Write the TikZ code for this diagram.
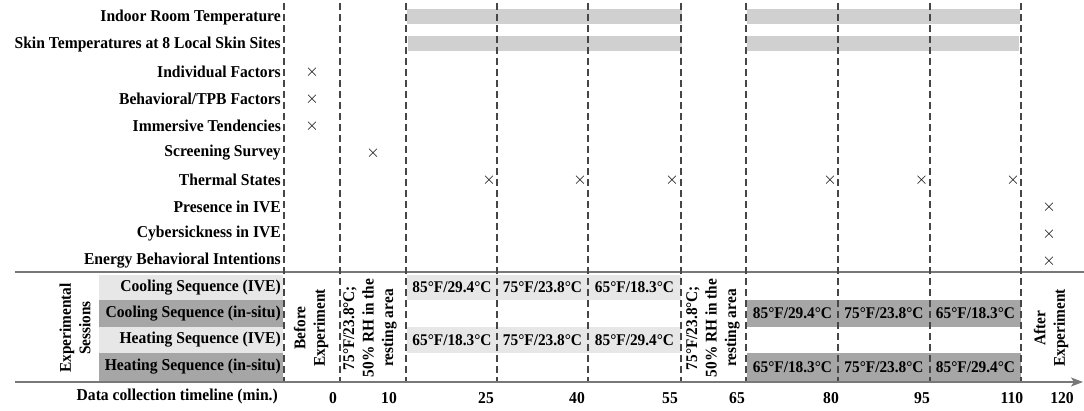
\documentclass[tikz,border=0pt]{standalone}
\usepackage{fontspec}
\setmainfont[FakeStretch=0.94]{Liberation Serif}
\usetikzlibrary{arrows.meta}
\definecolor{bargray}{RGB}{208,208,208}
\definecolor{lightcell}{RGB}{231,231,231}
\definecolor{darkcell}{RGB}{166,166,166}
\definecolor{dashcol}{RGB}{70,70,70}
\definecolor{axiscol}{RGB}{120,120,120}
\begin{document}
\begin{tikzpicture}[x=1pt,y=-1pt,
  lbl/.style={anchor=east, font=\fontsize{16.6}{19}\selectfont\bfseries, inner sep=0pt},
  mk/.style={font=\fontsize{17}{17}\selectfont, inner sep=0pt},
  bar/.style={fill=bargray, draw=none, inner sep=0pt, minimum height=15pt},
  lcell/.style={fill=lightcell, draw=none, inner sep=0pt, font=\fontsize{16.3}{19}\selectfont\bfseries},
  dcell/.style={fill=darkcell, draw=none, inner sep=0pt, font=\fontsize{16.3}{19}\selectfont\bfseries},
  rot/.style={rotate=90, align=center, inner sep=0pt, font=\fontsize{16.3}{19.5}\selectfont\bfseries},
  tick/.style={font=\fontsize{16.6}{19}\selectfont\bfseries, inner sep=0pt},
  dsh/.style={draw=dashcol, line width=1.2pt, dash pattern=on 7pt off 4pt},
  axisline/.style={draw=axiscol, line width=1.8pt},
]
\useasboundingbox (0,0) rectangle (1084,411);

% top gray bars
\node[bar, minimum width=275pt] (barA1) at (544.5,16.5) {};
\node[bar, minimum width=273pt] (barA2) at (883.5,16.5) {};
\node[bar, minimum width=274pt] (barB1) at (545,43.5) {};
\node[bar, minimum width=272pt] (barB2) at (883,43.5) {};

% bottom left bands
\node[lcell, minimum width=184pt, minimum height=25pt] (bandA) at (191,287.5) {};
\node[dcell, minimum width=184pt, minimum height=27pt] (bandB) at (191,313.5) {};
\node[lcell, minimum width=184pt, minimum height=26pt] (bandC) at (191,340) {};
\node[dcell, minimum width=184pt, minimum height=28pt] (bandD) at (191,367) {};

% middle light cells
\node[lcell, minimum width=90pt, minimum height=25pt] (c11) at (452,287.5) {85°F/29.4°C};
\node[lcell, minimum width=91pt, minimum height=25pt] (c12) at (542.5,287.5) {75°F/23.8°C};
\node[lcell, minimum width=93pt, minimum height=25pt] (c13) at (634.5,287.5) {65°F/18.3°C};
\node[lcell, minimum width=90pt, minimum height=26pt] (c31) at (452,340) {65°F/18.3°C};
\node[lcell, minimum width=91pt, minimum height=26pt] (c32) at (542.5,340) {75°F/23.8°C};
\node[lcell, minimum width=93pt, minimum height=26pt] (c33) at (634.5,340) {85°F/29.4°C};

% right dark cells
\node[dcell, minimum width=91pt, minimum height=27pt] (d21) at (792.5,313.5) {85°F/29.4°C};
\node[dcell, minimum width=92pt, minimum height=27pt] (d22) at (884,313.5) {75°F/23.8°C};
\node[dcell, minimum width=91pt, minimum height=27pt] (d23) at (975.5,313.5) {65°F/18.3°C};
\node[dcell, minimum width=91pt, minimum height=28pt] (d41) at (792.5,367) {65°F/18.3°C};
\node[dcell, minimum width=92pt, minimum height=28pt] (d42) at (884,367) {75°F/23.8°C};
\node[dcell, minimum width=91pt, minimum height=28pt] (d43) at (975.5,367) {85°F/29.4°C};

% separator and axis
\coordinate (sepL) at (15,272);
\coordinate (sepR) at (1084,272);
\draw[axisline, line width=1.4pt] (sepL) -- (sepR);
\coordinate (axL) at (15,382);
\coordinate (axR) at (1083,382);
\draw[axisline, -{Stealth[length=12pt,width=9pt,inset=3pt]}] (axL) -- (axR);

% dashed vertical lines
\foreach \i/\x in {0/284,1/340,2/406,3/497,4/588,5/681,6/746,7/838,8/930,9/1021}{
  \coordinate (t\i) at (\x,3);
  \coordinate (b\i) at (\x,381);
  \draw[dsh] (t\i) -- (b\i);
}

% row labels
\node[lbl] (r1) at (281,18) {Indoor Room Temperature};
\node[lbl] (r2) at (281,45) {Skin Temperatures at 8 Local Skin Sites};
\node[lbl] (r3) at (281,72) {Individual Factors};
\node[lbl] (r4) at (281,99) {Behavioral/TPB Factors};
\node[lbl] (r5) at (281,126) {Immersive Tendencies};
\node[lbl] (r6) at (281,153) {Screening Survey};
\node[lbl] (r7) at (281,180) {Thermal States};
\node[lbl] (r8) at (281,207) {Presence in IVE};
\node[lbl] (r9) at (281,234) {Cybersickness in IVE};
\node[lbl] (r10) at (281,261) {Energy Behavioral Intentions};

\node[lbl] (s1) at (281,287.5) {Cooling Sequence (IVE)};
\node[lbl] (s2) at (281,313.5) {Cooling Sequence (in-situ)};
\node[lbl] (s3) at (281,340) {Heating Sequence (IVE)};
\node[lbl] (s4) at (281,367) {Heating Sequence (in-situ)};

% markers
\node[mk] (m1) at (312,72) {$\times$};
\node[mk] (m2) at (312,99) {$\times$};
\node[mk] (m3) at (312,126) {$\times$};
\node[mk] (m4) at (373,153) {$\times$};
\node[mk] (m5) at (489,180) {$\times$};
\node[mk] (m6) at (580,180) {$\times$};
\node[mk] (m7) at (672,180) {$\times$};
\node[mk] (m8) at (830,180) {$\times$};
\node[mk] (m9) at (921.5,180) {$\times$};
\node[mk] (m10) at (1013,180) {$\times$};
\node[mk] (m11) at (1049,207) {$\times$};
\node[mk] (m12) at (1049,234) {$\times$};
\node[mk] (m13) at (1049,261) {$\times$};

% rotated texts
\node[rot] (sess) at (75,328) {Experimental\\Sessions};
\node[rot] (before) at (311,328) {Before\\Experiment};
\node[rot] (rest1) at (370,328) {75°F/23.8°C;\\50\% RH in the\\resting area};
\node[rot] (rest2) at (713,328) {75°F/23.8°C;\\50\% RH in the\\resting area};
\node[rot] (after) at (1051,328) {After\\Experiment};

% timeline
\node[lbl] (tl) at (278,397) {Data collection timeline (min.)};
\node[tick] (n0) at (333,398) {0};
\node[tick] (n10) at (389,398) {10};
\node[tick] (n25) at (486,398) {25};
\node[tick] (n40) at (577,398) {40};
\node[tick] (n55) at (670,398) {55};
\node[tick] (n65) at (737,398) {65};
\node[tick] (n80) at (831,398) {80};
\node[tick] (n95) at (922,398) {95};
\node[tick] (n110) at (1012,398) {110};
\node[tick] (n120) at (1062,398) {120};
\end{tikzpicture}
\end{document}
